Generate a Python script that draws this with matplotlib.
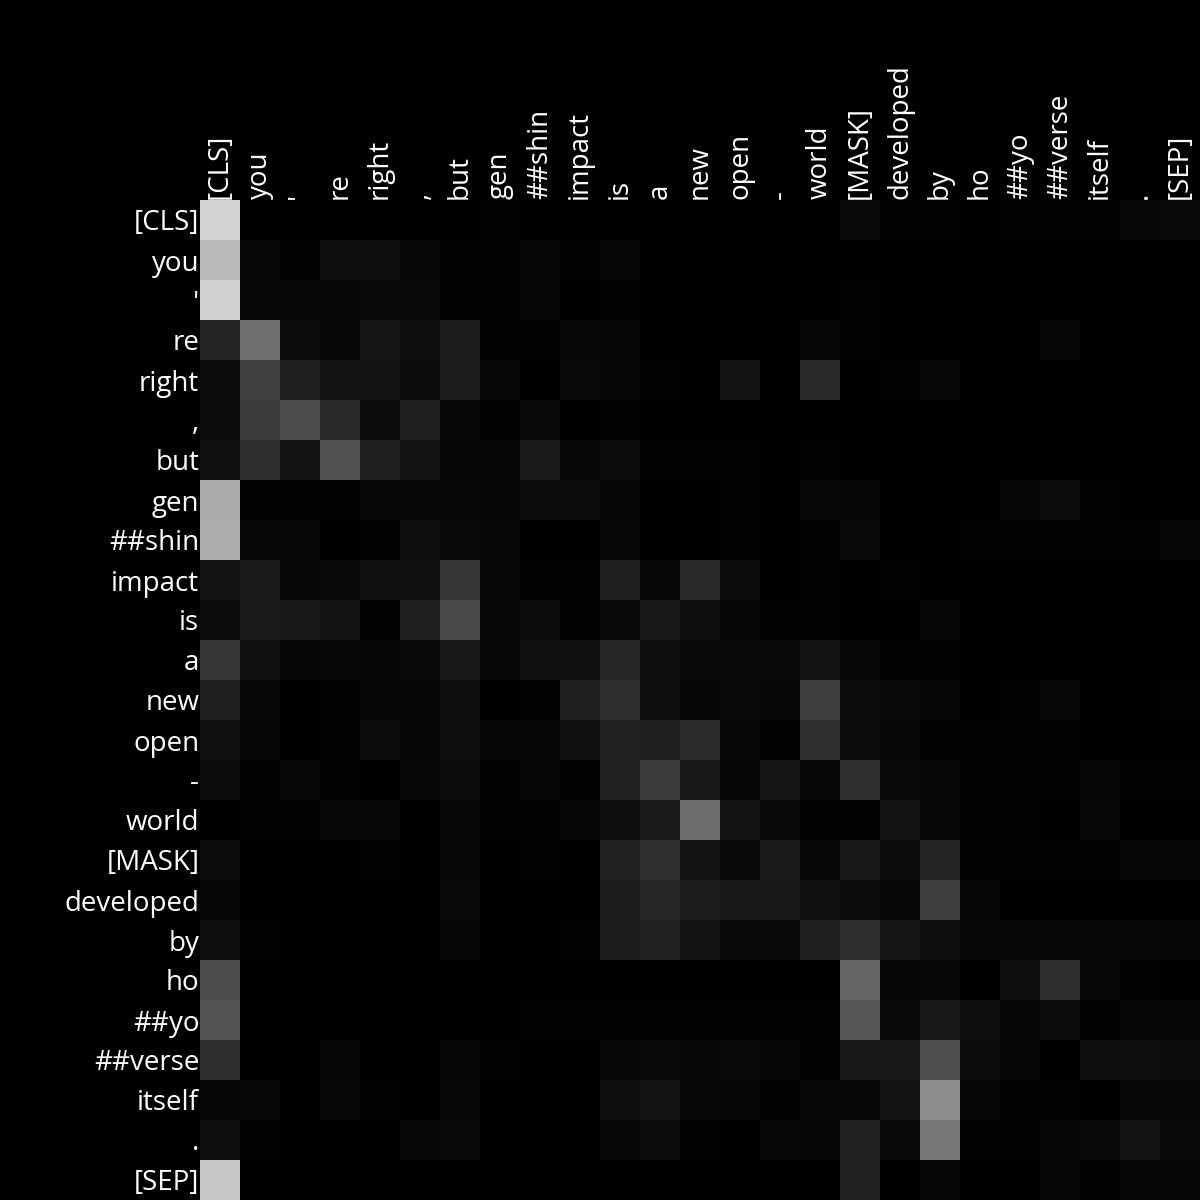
import numpy as np
import matplotlib
matplotlib.use("Agg")
import matplotlib.pyplot as plt

tokens = ["[CLS]", "you", "'", "re", "right", ",", "but", "gen", "##shin", "impact",
          "is", "a", "new", "open", "-", "world", "[MASK]", "developed", "by", "ho",
          "##yo", "##verse", "itself", ".", "[SEP]"]

# attention weights (gray level, 0..255)
attn = np.array([
    [210, 1, 1, 1, 1, 1, 1, 2, 1, 1, 1, 1, 1, 1, 1, 1, 10, 2, 2, 1, 3, 3, 3, 6, 10],
    [185, 6, 3, 14, 14, 8, 3, 3, 4, 3, 4, 1, 1, 1, 1, 1, 1, 1, 1, 1, 1, 1, 1, 1, 1],
    [208, 6, 8, 6, 9, 10, 2, 2, 4, 1, 2, 1, 1, 1, 1, 1, 3, 1, 1, 1, 1, 1, 1, 1, 1],
    [36, 112, 12, 6, 22, 14, 28, 3, 3, 6, 4, 1, 1, 1, 1, 5, 3, 1, 1, 1, 1, 5, 1, 1, 1],
    [13, 66, 30, 18, 19, 11, 28, 6, 0, 10, 4, 3, 1, 18, 0, 40, 1, 2, 6, 1, 1, 1, 1, 1, 1],
    [13, 60, 76, 40, 12, 30, 8, 3, 10, 1, 3, 1, 1, 1, 1, 1, 1, 1, 1, 1, 1, 1, 1, 1, 1],
    [17, 46, 20, 80, 32, 18, 4, 4, 26, 7, 11, 3, 3, 3, 1, 2, 1, 1, 1, 1, 1, 1, 1, 1, 1],
    [170, 2, 2, 2, 6, 6, 6, 5, 13, 13, 5, 1, 0, 3, 1, 7, 5, 1, 1, 1, 5, 12, 2, 1, 1],
    [172, 8, 7, 1, 2, 14, 10, 8, 1, 1, 6, 1, 1, 2, 1, 2, 9, 1, 1, 2, 2, 2, 2, 2, 4],
    [18, 26, 8, 10, 16, 16, 54, 6, 2, 3, 30, 7, 40, 12, 1, 3, 0, 3, 1, 1, 1, 1, 1, 1, 1],
    [11, 25, 24, 20, 3, 32, 74, 6, 12, 3, 10, 24, 14, 5, 3, 3, 0, 1, 4, 1, 1, 1, 1, 1, 1],
    [54, 16, 4, 8, 4, 10, 24, 8, 16, 17, 38, 15, 9, 10, 9, 18, 7, 3, 2, 1, 1, 1, 1, 1, 1],
    [30, 8, 1, 2, 5, 4, 14, 1, 3, 32, 44, 14, 4, 10, 7, 62, 11, 10, 4, 1, 3, 8, 1, 1, 3],
    [16, 4, 1, 3, 12, 4, 14, 4, 5, 16, 34, 30, 42, 8, 2, 48, 11, 8, 2, 2, 3, 2, 1, 1, 1],
    [12, 2, 6, 2, 1, 7, 13, 3, 4, 3, 34, 60, 24, 5, 22, 6, 48, 10, 6, 3, 2, 2, 5, 2, 2],
    [1, 2, 3, 8, 8, 1, 6, 3, 3, 4, 15, 26, 110, 19, 10, 2, 3, 20, 8, 2, 2, 1, 8, 1, 1],
    [11, 1, 1, 1, 2, 1, 8, 1, 2, 1, 34, 49, 20, 10, 25, 8, 23, 11, 36, 3, 2, 2, 3, 4, 4],
    [4, 1, 1, 1, 1, 1, 9, 1, 0, 0, 28, 38, 28, 24, 24, 16, 11, 8, 62, 4, 1, 1, 1, 1, 1],
    [14, 2, 1, 1, 1, 1, 4, 1, 1, 2, 28, 34, 18, 9, 10, 32, 46, 22, 14, 8, 7, 6, 8, 6, 4],
    [76, 0, 0, 0, 0, 0, 0, 0, 1, 1, 1, 1, 1, 1, 1, 1, 100, 4, 8, 0, 14, 46, 8, 3, 1],
    [84, 0, 0, 0, 0, 0, 0, 1, 3, 3, 3, 3, 3, 3, 3, 3, 86, 10, 24, 14, 4, 12, 3, 5, 5],
    [44, 0, 0, 5, 0, 0, 4, 3, 0, 0, 8, 10, 7, 10, 4, 2, 24, 24, 78, 12, 5, 0, 14, 14, 12],
    [5, 7, 0, 7, 3, 0, 8, 0, 0, 0, 15, 20, 6, 5, 3, 8, 8, 18, 140, 4, 2, 3, 0, 7, 8],
    [14, 2, 1, 1, 1, 6, 9, 1, 0, 0, 8, 12, 3, 1, 7, 5, 34, 9, 118, 3, 3, 5, 10, 18, 10],
    [200, 0, 0, 0, 0, 0, 0, 0, 0, 0, 0, 0, 0, 0, 0, 0, 34, 1, 4, 1, 1, 4, 3, 5, 5],
]) / 255.0

plt.rcParams['font.family'] = ['Open Sans', 'DejaVu Sans']

fig = plt.figure(figsize=(12, 12), dpi=100, facecolor='black')
ax = fig.add_axes([200 / 1200, 0, 1000 / 1200, 1000 / 1200])
ax.set_facecolor('black')
ax.imshow(attn, cmap='gray', vmin=0, vmax=1, interpolation='nearest', aspect='auto')

ax.set_xticks(range(len(tokens)))
ax.set_yticks(range(len(tokens)))
ax.set_xticklabels(tokens, rotation=90, fontsize=20, color='white')
ax.set_yticklabels(tokens, fontsize=20, color='white')
ax.xaxis.tick_top()
ax.tick_params(length=0, pad=0.5)
for s in ax.spines.values():
    s.set_visible(False)

fig.savefig('out.png', dpi=100, facecolor='black')
